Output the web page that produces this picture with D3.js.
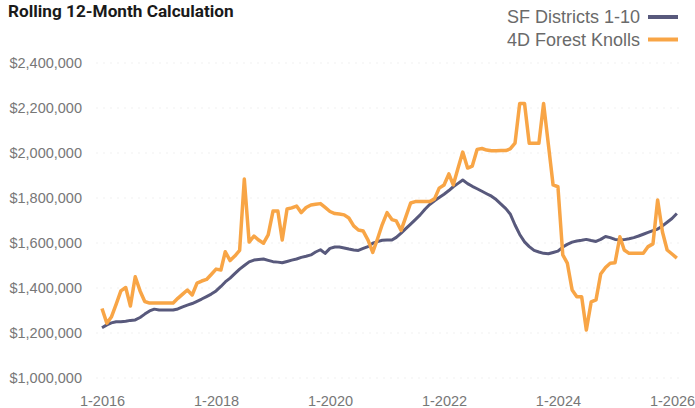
<!DOCTYPE html>
<html>
<head>
<meta charset="utf-8">
<script src="https://cdn.jsdelivr.net/npm/d3@7"></script>
<style>
  html, body { margin: 0; padding: 0; background: #fff; }
  svg { display: block; }
</style>
</head>
<body>
<svg id="chart" width="695" height="408"></svg>
<script>
// ---- Data (monthly, Jan 2016 .. Feb 2026) ----
const startMonth = [2016, 0];
const seriesNames = ["SF Districts 1-10", "4D Forest Knolls"];

const sfDistricts = [
  1223000, 1236000, 1245000, 1250000, 1250000, 1252000, 1256000, 1258000, 1269000, 1284000,
  1298000, 1306000, 1302000, 1302000, 1302000, 1302000, 1307000, 1316000, 1324000, 1331000,
  1341000, 1351000, 1362000, 1373000, 1387000, 1407000, 1427000, 1444000, 1464000, 1484000,
  1500000, 1516000, 1524000, 1527000, 1529000, 1523000, 1517000, 1515000, 1512000, 1518000,
  1524000, 1529000, 1536000, 1541000, 1547000, 1560000, 1570000, 1554000, 1576000, 1582000,
  1582000, 1578000, 1573000, 1569000, 1567000, 1576000, 1584000, 1599000, 1606000, 1612000,
  1613000, 1613000, 1625000, 1644000, 1664000, 1684000, 1704000, 1725000, 1750000, 1771000,
  1788000, 1802000, 1817000, 1833000, 1850000, 1865000, 1880000, 1864000, 1852000, 1841000,
  1830000, 1819000, 1808000, 1793000, 1773000, 1753000, 1729000, 1680000, 1638000, 1605000,
  1584000, 1567000, 1560000, 1554000, 1552000, 1558000, 1564000, 1582000, 1594000, 1604000,
  1609000, 1612000, 1616000, 1611000, 1607000, 1616000, 1629000, 1624000, 1616000, 1614000,
  1615000, 1619000, 1624000, 1631000, 1639000, 1647000, 1655000, 1662000, 1676000, 1692000,
  1709000, 1731000
];

const forestKnolls = [
  1309000, 1244000, 1271000, 1328000, 1387000, 1402000, 1320000, 1450000, 1387000, 1340000,
  1333000, 1333000, 1333000, 1333000, 1333000, 1333000, 1354000, 1373000, 1391000, 1369000,
  1422000, 1431000, 1438000, 1460000, 1484000, 1480000, 1561000, 1522000, 1542000, 1567000,
  1884000, 1604000, 1631000, 1613000, 1599000, 1636000, 1742000, 1742000, 1613000, 1751000,
  1756000, 1764000, 1735000, 1758000, 1769000, 1772000, 1775000, 1758000, 1740000, 1731000,
  1729000, 1725000, 1711000, 1676000, 1658000, 1653000, 1613000, 1558000, 1619000, 1682000,
  1735000, 1704000, 1698000, 1656000, 1716000, 1778000, 1784000, 1784000, 1784000, 1784000,
  1796000, 1844000, 1858000, 1907000, 1858000, 1933000, 2004000, 1933000, 1942000, 2016000,
  2020000, 2013000, 2010000, 2010000, 2011000, 2011000, 2018000, 2044000, 2220000, 2220000,
  2043000, 2043000, 2043000, 2220000, 2036000, 1858000, 1850000, 1547000, 1511000, 1391000,
  1361000, 1361000, 1213000, 1338000, 1347000, 1462000, 1491000, 1510000, 1512000, 1628000,
  1569000, 1554000, 1554000, 1554000, 1554000, 1584000, 1596000, 1791000, 1649000, 1569000,
  1551000, 1533000
];

const yTicks = [1000000, 1200000, 1400000, 1600000, 1800000, 2000000, 2200000, 2400000];
const xTickYears = [2016, 2018, 2020, 2022, 2024, 2026];
const titleText = "Rolling 12-Month Calculation";

// ---- Layout ----
const svg = d3.select("#chart");
const colors = ["#58597c", "#f8a546"];

const months = sfDistricts.map((_, i) => new Date(startMonth[0], startMonth[1] + i, 1));

const x = d3.scaleTime()
  .domain([new Date(2016, 0, 1), new Date(2026, 0, 1)])
  .range([102, 672]);
const y = d3.scaleLinear()
  .domain([1000000, 2400000])
  .range([378, 63]);

// gridlines (very faint)
svg.append("g")
  .selectAll("line")
  .data(yTicks)
  .join("line")
  .attr("x1", 96).attr("x2", 684)
  .attr("y1", d => y(d)).attr("y2", d => y(d))
  .attr("stroke", "#f1f1f1")
  .attr("stroke-width", 1)
  .attr("stroke-dasharray", "2,5");

// y axis
const yAxis = d3.axisLeft(y)
  .tickValues(yTicks)
  .tickSize(0)
  .tickPadding(0)
  .tickFormat(d => "$" + d3.format(",")(d));
const gy = svg.append("g").attr("transform", "translate(82,0)").call(yAxis);
gy.select(".domain").remove();
gy.selectAll("text")
  .attr("fill", "#777777")
  .attr("font-family", "'Liberation Sans', Arial, sans-serif")
  .attr("font-size", "14.5px");

// x axis
const xAxis = d3.axisBottom(x)
  .tickValues(xTickYears.map(yr => new Date(yr, 0, 1)))
  .tickSize(0)
  .tickPadding(0)
  .tickFormat(d => (d.getMonth() + 1) + "-" + d.getFullYear());
const gx = svg.append("g").attr("transform", "translate(0,396)").call(xAxis);
gx.select(".domain").remove();
gx.selectAll("text")
  .attr("fill", "#777777")
  .attr("font-family", "'Liberation Sans', Arial, sans-serif")
  .attr("font-size", "14.5px")
  .attr("dy", "0.71em");

// lines
const line = d3.line()
  .x((d, i) => x(months[i]))
  .y(d => y(d));

svg.append("path")
  .datum(sfDistricts)
  .attr("d", line)
  .attr("fill", "none")
  .attr("stroke", colors[0])
  .attr("stroke-width", 3)
  .attr("stroke-linejoin", "round");

svg.append("path")
  .datum(forestKnolls)
  .attr("d", line)
  .attr("fill", "none")
  .attr("stroke", colors[1])
  .attr("stroke-width", 3.5)
  .attr("stroke-linejoin", "round");

// title
svg.append("text")
  .attr("x", 8).attr("y", 17)
  .attr("font-family", "Roboto, 'Liberation Sans', sans-serif")
  .attr("font-weight", 700)
  .attr("font-size", "17.2px")
  .attr("fill", "#1a1a1a")
  .text(titleText);

// legend
const legend = svg.append("g");
seriesNames.forEach((name, i) => {
  const yy = 17 + i * 22.5;
  legend.append("text")
    .attr("x", 640).attr("y", yy)
    .attr("dy", "0.36em")
    .attr("text-anchor", "end")
    .attr("font-family", "'Liberation Sans', Arial, sans-serif")
    .attr("font-size", "18px")
    .attr("fill", "#6a6a6a")
    .text(name);
  legend.append("line")
    .attr("x1", 648).attr("x2", 678)
    .attr("y1", yy).attr("y2", yy)
    .attr("stroke", colors[i])
    .attr("stroke-width", 4);
});
</script>
</body>
</html>
